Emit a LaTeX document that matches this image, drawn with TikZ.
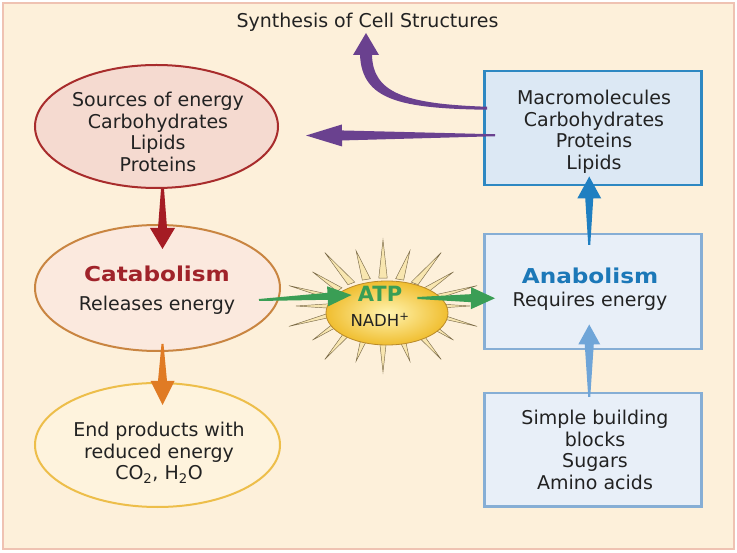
\documentclass[tikz,border=0pt]{standalone}
\usepackage{fontspec}
\usepackage{graphicx}
\setmainfont{DejaVu Sans}
\usetikzlibrary{shapes.geometric,calc}
\definecolor{bgcream}{HTML}{FDF0DA}
\definecolor{bordpink}{HTML}{EFC2B2}
\definecolor{srcfill}{HTML}{F5DAD0}
\definecolor{srcdraw}{HTML}{A82C2C}
\definecolor{catfill}{HTML}{FBE9DE}
\definecolor{catdraw}{HTML}{C98541}
\definecolor{endfill}{HTML}{FEF3DD}
\definecolor{enddraw}{HTML}{EDBE4A}
\definecolor{macfill}{HTML}{DCE8F4}
\definecolor{macdraw}{HTML}{2E88C2}
\definecolor{anafill}{HTML}{E8EFF8}
\definecolor{anadraw}{HTML}{86AED5}
\definecolor{redarr}{HTML}{A51C24}
\definecolor{orgarr}{HTML}{E07B24}
\definecolor{purarr}{HTML}{6A418F}
\definecolor{bluarr}{HTML}{1F7FC1}
\definecolor{lbluarr}{HTML}{6FA5D8}
\definecolor{grnarr}{HTML}{3A9E55}
\definecolor{cattext}{HTML}{A0232A}
\definecolor{anatext}{HTML}{1C78B8}
\definecolor{txt}{HTML}{222222}
\definecolor{spikefill}{HTML}{F8E6B0}
\definecolor{spikedraw}{HTML}{7A6A48}
\definecolor{sunin}{HTML}{FFF4B0}
\definecolor{sunout}{HTML}{F0BE30}
\definecolor{sundraw}{HTML}{B98A2A}
% #1 colour, #2 tail, #3 tip, #4 tail half width, #5 shaft half width at head, #6 head half width, #7 head length
\newcommand\fatarrow[7]{%
  \coordinate (fa-t) at (#2);
  \coordinate (fa-p) at (#3);
  \coordinate (fa-b) at ($(fa-p)!#7!(fa-t)$);
  \fill[#1] ($(fa-t)!#4!90:(fa-p)$) -- ($(fa-b)!#5!90:(fa-p)$) -- ($(fa-b)!#6!90:(fa-p)$)
    -- (fa-p) -- ($(fa-b)!#6!-90:(fa-p)$) -- ($(fa-b)!#5!-90:(fa-p)$) -- ($(fa-t)!#4!-90:(fa-p)$) -- cycle;
}
\begin{document}
\begin{tikzpicture}[x=1pt,y=-1pt,
  txtstyle/.style={text=txt, font=\fontsize{19}{21.5}\selectfont, align=center, inner sep=0pt},
  ellbox/.style={ellipse, line width=2pt, inner sep=0pt},
  rectbox/.style={rectangle, line width=2.5pt, inner sep=0pt, anchor=north west},
  boldtitle/.style={font=\fontsize{20.5}{22}\selectfont\bfseries, inner sep=0pt, anchor=base}]
\useasboundingbox (0,0) rectangle (737,553);
\fill[white] (0,0) rectangle (737,553);
\draw[bordpink, fill=bgcream, line width=2pt] (3,3) rectangle (734,549);

% shapes
\node[ellbox, fill=srcfill, draw=srcdraw, minimum width=243pt, minimum height=123pt] (src) at (156.5,126.5) {};
\node[ellbox, fill=catfill, draw=catdraw, minimum width=245pt, minimum height=126pt] (cat) at (157.5,288) {};
\node[ellbox, fill=endfill, draw=enddraw, minimum width=245pt, minimum height=124pt] (endp) at (157.5,445) {};
\node[rectbox, fill=macfill, draw=macdraw, minimum width=217pt, minimum height=114pt] (macro) at (483,70) {};
\node[rectbox, fill=anafill, draw=anadraw, minimum width=217pt, minimum height=115pt] (anab) at (483,233) {};
\node[rectbox, fill=anafill, draw=anadraw, minimum width=217pt, minimum height=113pt] (simple) at (483,392) {};

% sun
\coordinate (sunc) at (383,306);
\foreach \a [count=\i] in {0,18,...,342}{
  \pgfmathsetmacro{\f}{mod(\i,2)==0 ? 1 : 0.88}
  \filldraw[fill=spikefill, draw=spikedraw, line width=0.45pt]
    ($(sunc)+({54*cos(\a-4.5)},{28*sin(\a-4.5)})$) -- ($(sunc)+({99*\f*cos(\a)},{66*\f*sin(\a)})$)
    -- ($(sunc)+({54*cos(\a+4.5)},{28*sin(\a+4.5)})$) -- cycle;
}
\node[ellipse, minimum width=122pt, minimum height=64pt, inner sep=0pt, draw=sundraw, line width=0.8pt,
  inner color=sunin, outer color=sunout] (atp) at (387,313) {};

% arrows
\fatarrow{redarr}{$(src.south)+(6,0)$}{$(cat.north)+(5,25)$}{1.5pt}{4.5pt}{12.5pt}{21pt}
\fatarrow{orgarr}{$(cat.south)+(5,-8)$}{$(endp.north)+(5,23)$}{1pt}{4.5pt}{12pt}{24pt}
\fatarrow{purarr}{$(macro.west)+(12,7)$}{$(src.east)+(27,9)$}{1pt}{5pt}{11pt}{36pt}
\fatarrow{bluarr}{$(anab.north)+(-3.5,12)$}{$(macro.south)+(-3.5,-10)$}{1pt}{4pt}{12pt}{22pt}
\fatarrow{lbluarr}{$(simple.north)+(-3.5,5)$}{$(anab.south)+(-3.5,-26)$}{1pt}{4.5pt}{11pt}{20pt}
\fatarrow{grnarr}{$(cat.east)+(-22,12)$}{$(atp.west)+(26,-18)$}{1pt}{3.5pt}{10pt}{24pt}
\fatarrow{grnarr}{$(atp.east)+(-31,-15)$}{$(anab.west)+(12,6.5)$}{1pt}{4pt}{11pt}{24pt}
% curved purple arrow
\coordinate (pc-t) at ($(macro.west)+(4,-20)$);
\coordinate (pc-p) at (366,33);
\fill[purarr] ($(pc-t)+(0,-1.5)$) .. controls (405,104) and (373,93) .. (372,55) -- (379,55) -- (pc-p)
  -- (353,55) -- (360,55) .. controls (362,100) and (400,108.5) .. ($(pc-t)+(0,1.5)$) -- cycle;

% texts
\node[txtstyle, anchor=base] (title) at (367.5,28) {Synthesis of Cell Structures};
\node[txtstyle] (srctxt) at (158,132) {Sources of energy\\Carbohydrates\\Lipids\\Proteins};
\node[txtstyle] (mactxt) at (594,132) {Macromolecules\\Carbohydrates\\Proteins\\Lipids};
\node[boldtitle, text=cattext] (cattitle) at (157,282) {\scalebox{1.13}[1]{Catabolism}};
\node[txtstyle, anchor=base] (catsub) at (157,311) {Releases energy};
\node[boldtitle, text=anatext] (anatitle) at (590,284) {\scalebox{1.13}[1]{Anabolism}};
\node[txtstyle, anchor=base] (anasub) at (590,307) {Requires energy};
\node[txtstyle] (endtxt) at (159,453) {End products with\\reduced energy\\CO\textsubscript{2}, H\textsubscript{2}O};
\node[txtstyle] (simtxt) at (595,450) {Simple building\\blocks\\Sugars\\Amino acids};
\node[font=\fontsize{21}{22}\selectfont\bfseries, text=grnarr, inner sep=0pt, anchor=base] (atptxt) at (380,302) {ATP};
\node[font=\fontsize{16.5}{18}\selectfont, text=txt, inner sep=0pt, anchor=base] (nadh) at (380,327) {NADH\textsuperscript{+}};
\end{tikzpicture}
\end{document}
